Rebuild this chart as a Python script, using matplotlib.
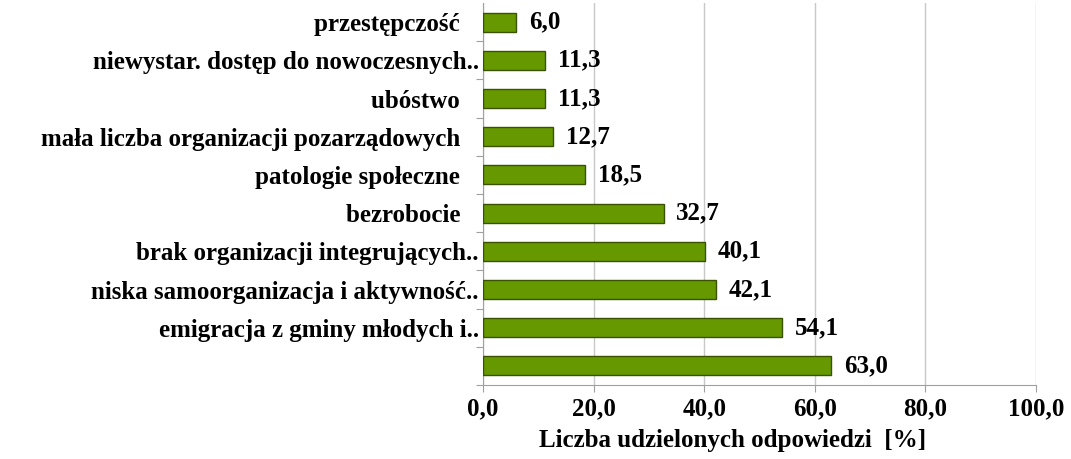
import numpy as np
import matplotlib.pyplot as plt

plt.rcParams['font.family'] = ['Liberation Serif', 'DejaVu Serif']
plt.rcParams['font.weight'] = 'bold'

sp = "\u00a0\u00a0\u00a0"
# kategorie od góry do dołu
kategorie = [
    "przestępczość" + sp,
    "niewystar. dostęp do nowoczesnych..",
    "ubóstwo" + sp,
    "mała liczba organizacji pozarządowych" + sp,
    "patologie społeczne" + sp,
    "bezrobocie" + sp,
    "brak organizacji integrujących..",
    "niska samoorganizacja i aktywność..",
    "emigracja z gminy młodych i..",
    "",
]
wartosci = [6.0, 11.3, 11.3, 12.7, 18.5, 32.7, 40.1, 42.1, 54.1, 63.0]
etykiety = ["6,0", "11,3", "11,3", "12,7", "18,5", "32,7", "40,1", "42,1", "54,1", "63,0"]
xticks = [0, 20, 40, 60, 80, 100]

fs = 18

fig = plt.figure(figsize=(10.71, 4.59), dpi=100)
ax = fig.add_axes([483/1071, 1-385/459, (1036-483)/1071, (385-3)/459])

y = np.arange(len(kategorie))
ax.barh(y, wartosci, height=0.5, color='#669900', edgecolor='#3a5200', linewidth=1, zorder=3)
for yi, v, t in zip(y, wartosci, etykiety):
    ax.annotate(t, (v, yi), xytext=(9, 0), textcoords='offset points',
                va='center', ha='left', fontsize=fs, fontweight='bold')

ax.set_ylim(len(kategorie)-0.5, -0.5)
ax.set_xlim(0, 100)
ax.set_yticks(y + 0.5, minor=False)
ax.set_yticklabels([])
ax.set_yticks(y, minor=True)
ax.set_yticklabels(kategorie, minor=True, fontsize=fs, fontweight='bold')
ax.tick_params(axis='y', which='minor', length=0, pad=3)
ax.tick_params(axis='y', which='major', length=5, color='#a0a0a0')
ax.set_xticks(xticks)
ax.set_xticklabels([f"{x:.1f}".replace('.', ',') for x in xticks], fontsize=fs, fontweight='bold')
ax.tick_params(axis='x', length=5, color='#a0a0a0', pad=4)
ax.grid(axis='x', color='#c8c8c8', linewidth=1, zorder=0)
for s in ['top', 'right']:
    ax.spines[s].set_visible(False)
for s in ['left', 'bottom']:
    ax.spines[s].set_color('#a0a0a0')
ax.set_xlabel("Liczba udzielonych odpowiedzi  [%]", fontsize=fs, fontweight='bold')
ax.xaxis.set_label_coords(0.452, -0.115)

fig.savefig("out.png", dpi=100)
